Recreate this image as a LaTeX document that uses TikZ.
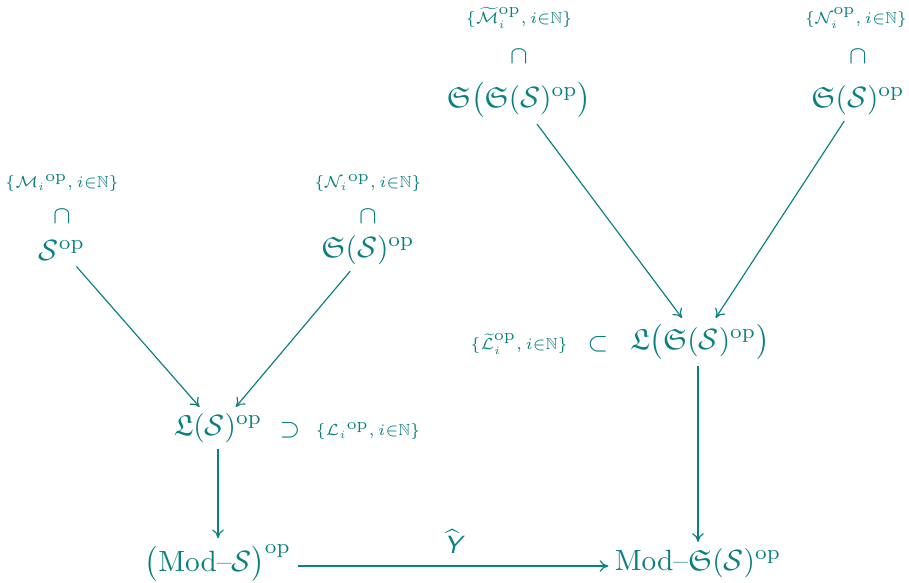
\RequirePackage{fix-cm}
\documentclass[tikz,border=0pt]{standalone}
\usepackage{amsmath,amssymb,graphicx}
\usetikzlibrary{arrows.meta}
\definecolor{dia}{RGB}{10,128,128}
\newcommand{\opx}{\hbox{$\mathrm{op}$}}
\newcommand{\lb}[1]{\scalebox{0.88}{$#1$}}
\tikzset{
  main/.style={text=dia, inner sep=2pt},
  lab/.style={text=dia, inner sep=1pt, font=\fontsize{6.2}{7.5}\selectfont},
  rel/.style={text=dia, inner sep=1pt, font=\fontsize{8.5}{10}\selectfont},
  arr/.style={draw=dia, line width=0.4pt, -{To[length=3pt,width=4pt]}},
}
\begin{document}
\begin{tikzpicture}[x=0.012cm, y=-0.012cm]
\useasboundingbox (0,0) rectangle (909,582);
% left-top group
\node[lab] (lm) at (62,183) {\lb{\{{\mathcal{M}_i}^{\opx}, i{\in}\mathbb{N}\}}};
\node[rel] (cap1) at (62,217) {$\cap$};
\node[main] (sop) at (62,250) {$\mathcal{S}^{\mathrm{op}}$};
\node[lab] (ln) at (368,183) {\lb{\{{\mathcal{N}_i}^{\opx}, i{\in}\mathbb{N}\}}};
\node[rel] (cap2) at (368,217) {$\cap$};
\node[main] (gsop) at (368,250) {$\mathfrak{S}(\mathcal{S})^{\mathrm{op}}$};
% right-top group
\node[lab] (lmt) at (519,18) {\lb{\{\widetilde{\mathcal{M}}_i^{\opx}, i{\in}\mathbb{N}\}}};
\node[rel] (cap3) at (519,57) {$\cap$};
\node[main] (ggsop) at (519,100) {$\mathfrak{S}\bigl(\mathfrak{S}(\mathcal{S})^{\mathrm{op}}\bigr)$};
\node[lab] (lnr) at (856,18) {\lb{\{\mathcal{N}_i^{\opx}, i{\in}\mathbb{N}\}}};
\node[rel] (cap4) at (858,57) {$\cap$};
\node[main] (gsopr) at (858,100) {$\mathfrak{S}(\mathcal{S})^{\mathrm{op}}$};
% middle
\node[main] (lsop) at (218,428) {$\mathfrak{L}(\mathcal{S})^{\mathrm{op}}$};
\node[rel] (sup1) at (290,430) {$\supset$};
\node[lab] (ll) at (368,431) {\lb{\{{\mathcal{L}_i}^{\opx}, i{\in}\mathbb{N}\}}};
\node[lab] (llt) at (519,344) {\lb{\{\widetilde{\mathcal{L}}_i^{\opx}, i{\in}\mathbb{N}\}}};
\node[rel] (sub1) at (598,344) {$\subset$};
\node[main] (lgsop) at (700,342) {$\mathfrak{L}\bigl(\mathfrak{S}(\mathcal{S})^{\mathrm{op}}\bigr)$};
% bottom
\node[main] (mods) at (218,563) {$\bigl(\mathrm{Mod}\text{--}\mathcal{S}\bigr)^{\mathrm{op}}$};
\node[main] (modg) at (698,563) {$\mathrm{Mod}\text{--}\mathfrak{S}(\mathcal{S})^{\mathrm{op}}$};
% arrows
\draw[arr] (sop) -- (lsop);
\draw[arr] (gsop) -- (lsop);
\draw[arr] (ggsop) -- (lgsop);
\draw[arr] (gsopr) -- (lgsop);
\draw[arr] (lsop) -- (mods);
\draw[arr] (lgsop.south -| modg.north) -- (modg);
\draw[arr] (mods.east |- 0,566) -- node[rel, above=3pt] (yh) {$\widehat{\textsf{\itshape Y}}$} (modg.west |- 0,566);
\end{tikzpicture}
\end{document}
